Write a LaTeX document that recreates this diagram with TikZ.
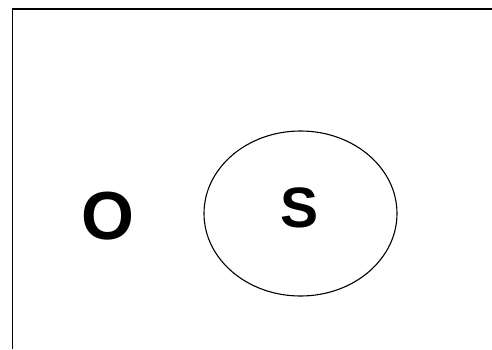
\documentclass[tikz,border=0pt]{standalone}
\usepackage{fontspec}
\setmainfont{Liberation Sans}
\usetikzlibrary{shapes.geometric,positioning}

\begin{document}
\begin{tikzpicture}[
  x=1pt,y=1pt,
  frame/.style={draw=black,line width=1.7pt},
  setshape/.style={draw=black,line width=1.1pt,ellipse,minimum width=193pt,minimum height=165pt,inner sep=0pt},
  lbl/.style={font=\bfseries,inner sep=0pt,anchor=base}
]
  \useasboundingbox (0,0) rectangle (492,349);
  % open frame (top and left edges)
  \draw[frame] (12.5,0) -- (12.5,340) -- (492,340);

  % the set and its labels
  \node[setshape] (sset) at (300.5,135.5) {};
  \node[lbl,font=\fontsize{57}{57}\bfseries\selectfont] (slbl) at (300,122) {S};
  \node[lbl,font=\fontsize{68}{68}\bfseries\selectfont] (olbl) at (107.5,110) {O};
\end{tikzpicture}
\end{document}
